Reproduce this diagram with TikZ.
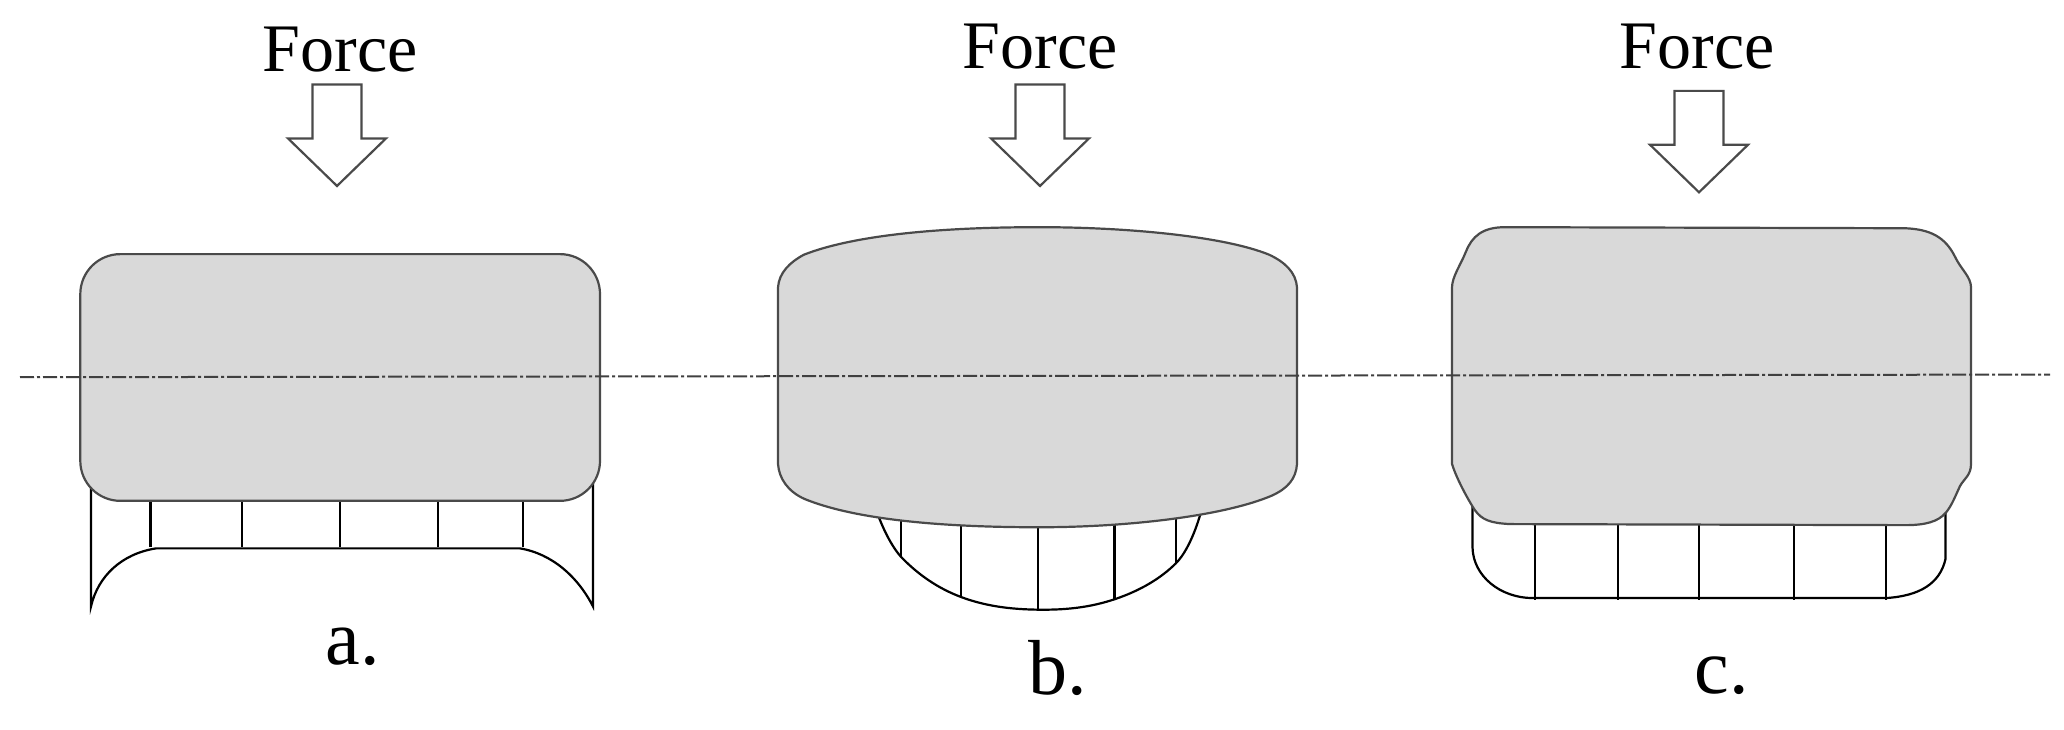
\documentclass[tikz,border=0pt]{standalone}
\usepackage{fontspec}
\setmainfont{Liberation Serif}
\definecolor{bodygray}{HTML}{D9D9D9}
\definecolor{edgegray}{HTML}{4A4A4A}
\tikzset{
  body/.style={draw=edgegray,fill=bodygray,line width=1.1pt},
  stress/.style={draw=black,line width=1.1pt},
  forcearrow/.style={draw=edgegray,fill=white,line width=1.1pt,line join=miter},
  axisline/.style={draw=black!75,line width=1pt,dash pattern=on 7pt off 1.5pt on 1.5pt off 1.5pt},
  forcetext/.style={anchor=base,inner sep=0pt,font=\fontsize{34}{36}\selectfont},
  panellabel/.style={anchor=base,inner sep=0pt,font=\fontsize{39}{40}\selectfont}
}
\begin{document}
\begin{tikzpicture}[x=0.5pt,y=-0.5283pt]
\useasboundingbox (0,0) rectangle (2064,690);
% force arrows and labels
\foreach \cx/\ty/\fx/\fy/\nm in {337/80/340/68/a,1040/80/1040/65/b,1699/86/1697/65/c}{
\node[forcetext] (force\nm) at (\fx,\fy) {Force};
\draw[forcearrow,shift={(\cx,\ty)}] (-24.5,0) -- (24.5,0) -- (24.5,51) -- (49,51) -- (0,96) -- (-49,51) -- (-24.5,51) -- cycle;}
% panel a, stress profile
\draw[stress] (91,440) -- (91,574) .. controls (98,545) and (122,524) .. (156,519) -- (520,519) .. controls (552,524) and (578,546) .. (593,574) -- (593,440);
\foreach \x in {150.5,242,340,438,523}
\draw[stress] (\x,470) -- (\x,518);
% panel a, body
\draw[body,rounded corners=20pt] (80.3,240.5) rectangle (600,474);
% panel b, stress profile
\draw[stress] plot[smooth,tension=0.65] coordinates {(877.5,486) (903,529) (961,565) (1038,577) (1115,567) (1176,533) (1200.5,486)};
\foreach \x/\y in {901/526,961/565,1038/577,1114.5/567,1176/533}
\draw[stress] (\x,480) -- (\x,\y);
% panel b, body
\draw[body] (778,272) .. controls (779,258) and (790,248) .. (804,241) .. controls (850,224) and (930,215) .. (1039,215) .. controls (1130,215) and (1225,224) .. (1269,241) .. controls (1285,248) and (1296,258) .. (1297,272) -- (1297,439) .. controls (1296,453) and (1288,462) .. (1272,469) .. controls (1225,488) and (1130,499) .. (1039,499) .. controls (930,499) and (850,490) .. (804,472) .. controls (788,465) and (779,453) .. (778,439) -- cycle;
% panel c, stress profile
\draw[stress] (1472.5,470) -- (1472.5,518) .. controls (1473,545) and (1500,566) .. (1533,566) -- (1886,566) .. controls (1920,564) and (1940,552) .. (1945.5,529) -- (1945.5,470);
\foreach \x in {1535,1618,1699,1794,1886}
\draw[stress] (\x,480) -- (\x,568);
% panel c, body
\draw[body] (1452,272) .. controls (1452,262) and (1461,250) .. (1466,238) .. controls (1472,224) and (1482,215) .. (1505,215) -- (1905,216) .. controls (1930,217) and (1945,224) .. (1955,243) .. controls (1961,255) and (1971,262) .. (1971,272) -- (1971,439) .. controls (1971,450) and (1964,453) .. (1960,460) .. controls (1955,470) and (1952,478) .. (1946,485) .. controls (1938,494) and (1925,497) .. (1905,497) -- (1510,496) .. controls (1490,495) and (1482,492) .. (1475,483) .. controls (1468,473) and (1456,452) .. (1452,439) -- cycle;
% centre line
\coordinate (axisl) at (20,357);
\coordinate (axisr) at (2050,354.5);
\draw[axisline] (axisl) -- (axisr);
% panel labels
\node[panellabel] (laba) at (353,629) {a.};
\node[panellabel] (labb) at (1058,657) {b.};
\node[panellabel] (labc) at (1722,656) {c.};
\end{tikzpicture}
\end{document}
